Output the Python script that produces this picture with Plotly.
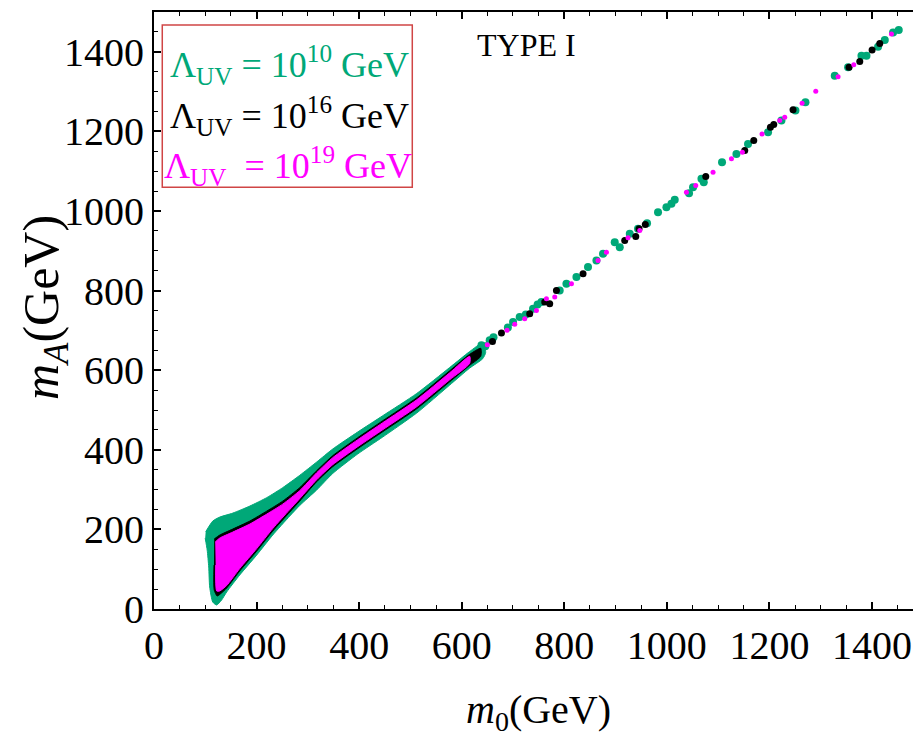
import plotly.graph_objects as go

# ---------------- data (GeV) ----------------
# dense scan regions (outer outline of the dense point clouds), m0 / mA
green_band_m0 = [100.8, 114.5, 128.1, 153.5, 186.6, 219.8, 251.0, 284.1, 317.3, 348.5, 397.2, 446.0, 512.3, 576.6, 615.6, 641.0,
                 646.8, 641.0, 615.6, 576.6, 512.3, 446.0, 397.2, 348.5, 317.3, 284.1, 264.6, 231.5, 200.3, 167.1, 141.7,
                 131.9, 122.2, 114.5, 108.6, 106.7, 103.7, 99.8]
green_band_mA = [194.0, 220.8, 230.9, 240.9, 258.5, 279.8, 304.9, 335.8, 369.4, 402.0, 444.7, 485.6, 541.5, 606.8, 646.9, 668.5,
                 644.9, 628.9, 605.3, 562.6, 492.4, 432.1, 389.5, 340.5, 299.1, 260.0, 233.4, 185.7, 135.5, 85.3, 42.7,
                 22.6, 10.0, 17.6, 55.2, 105.4, 148.1, 178.2]

black_band_m0 = [117.4, 128.1, 153.5, 186.6, 219.8, 251.0, 284.1, 317.3, 348.5, 397.2, 446.0, 512.3, 576.6, 615.6, 637.1,
                 637.1, 615.6, 576.6, 512.3, 446.0, 397.2, 348.5, 317.3, 284.1, 264.6, 231.5, 200.3, 167.1, 141.7, 128.1,
                 123.2, 117.4, 117.0]
black_band_mA = [175.7, 185.7, 200.8, 220.8, 245.9, 271.0, 304.9, 347.6, 385.2, 430.4, 473.0, 530.7, 598.5, 639.9, 655.0,
                 634.9, 612.3, 570.9, 503.1, 445.4, 402.8, 357.6, 320.0, 271.0, 243.4, 195.7, 145.5, 95.4, 52.7, 36.4,
                 32.6, 47.7, 110.4]

magenta_band_m0 = [119.3, 128.1, 153.5, 186.6, 219.8, 251.0, 284.1, 317.3, 348.5, 397.2, 446.0, 512.3, 576.6, 615.6,
                   615.6, 576.6, 512.3, 446.0, 397.2, 348.5, 317.3, 284.1, 264.6, 231.5, 200.3, 167.1, 141.7, 128.1,
                   122.2, 120.3]
magenta_band_mA = [168.1, 178.2, 193.2, 213.3, 238.4, 263.5, 297.4, 342.5, 380.2, 425.3, 468.0, 525.7, 593.5, 634.9,
                   617.3, 575.9, 508.2, 450.4, 407.8, 362.6, 325.0, 277.3, 249.7, 202.0, 151.8, 101.6, 59.0, 45.2,
                   45.2, 110.4]

# individual scan points (sparse part)
green_m0 = [638.5, 646.0, 654.6, 662.0, 690.0, 700.1, 713.1, 725.0, 739.1, 748.0, 755.5, 791.1, 804.2, 823.7, 846.3,
            862.7, 875.6, 898.4, 908.2, 927.7, 943.8, 961.4, 982.8, 999.2, 1009.0, 1015.4, 1043.3, 1051.1, 1067.5,
            1072.0, 1107.6, 1135.7, 1158.3, 1197.4, 1223.5, 1250.8, 1270.3, 1327.4, 1353.4, 1379.5, 1389.3, 1411.9,
            1425.0, 1441.1, 1452.2]
green_mA = [662.5, 660.0, 675.0, 683.0, 707.0, 721.0, 733.5, 740.0, 754.6, 765.0, 771.1, 800.5, 817.3, 833.9, 859.0,
            875.8, 892.6, 921.7, 909.2, 942.8, 955.3, 969.4, 997.0, 1009.5, 1018.0, 1028.0, 1044.7, 1059.7, 1080.8,
            1072.3, 1122.5, 1143.5, 1168.6, 1197.7, 1227.1, 1252.2, 1273.0, 1340.0, 1360.9, 1390.2, 1390.2, 1412.8,
            1429.6, 1448.7, 1454.7]

black_m0 = [660.0, 677.5, 732.6, 761.9, 771.6, 784.7, 836.6, 917.9, 939.4, 945.8, 958.0, 1075.9, 1151.9, 1169.5,
            1202.0, 1208.5, 1246.1, 1355.3, 1376.2, 1400.2, 1415.2]
black_mA = [672.0, 693.4, 742.0, 771.1, 767.1, 800.5, 842.4, 926.0, 936.0, 955.3, 966.0, 1086.6, 1151.8, 1176.9,
            1210.3, 1217.1, 1254.7, 1360.9, 1375.9, 1404.5, 1421.1]

magenta_m0 = [650.0, 688.4, 703.4, 722.9, 745.7, 765.2, 781.4, 814.0, 865.8, 882.2, 924.3, 947.2, 1038.2, 1056.4,
              1090.1, 1126.0, 1147.4, 1185.6, 1220.2, 1229.9, 1263.7, 1290.4, 1333.9, 1364.5, 1438.0]
magenta_mA = [664.0, 700.1, 715.2, 729.5, 750.3, 779.7, 783.7, 817.3, 875.8, 896.6, 932.7, 951.1, 1047.2, 1064.0,
              1097.4, 1131.0, 1147.6, 1193.7, 1227.1, 1235.4, 1270.5, 1300.6, 1337.5, 1367.6, 1444.6]

tick_vals = [0, 200, 400, 600, 800, 1000, 1200, 1400]
legend_labels = ["Λ<sub>UV</sub> = 10<sup>10</sup> GeV",
                 "Λ<sub>UV</sub> = 10<sup>16</sup> GeV",
                 "Λ<sub>UV</sub>  = 10<sup>19</sup> GeV"]

GREEN = "#00A878"
BLACK = "#000000"
MAGENTA = "#FF00FF"
FONT = "Liberation Serif"

fig = go.Figure()

def band(xs, ys, color, w):
    fig.add_trace(go.Scatter(x=xs, y=ys, mode="lines", fill="toself", fillcolor=color,
                             line=dict(color=color, width=w, shape="spline", smoothing=0.6),
                             hoverinfo="skip", showlegend=False))

def pts(xs, ys, color, size):
    fig.add_trace(go.Scatter(x=xs, y=ys, mode="markers",
                             marker=dict(color=color, size=size, line=dict(width=0)), showlegend=False))

band(green_band_m0, green_band_mA, GREEN, 1)
pts(green_m0, green_mA, GREEN, 8)
band(black_band_m0, black_band_mA, BLACK, 1)
pts(black_m0, black_mA, BLACK, 7)
band(magenta_band_m0, magenta_band_mA, MAGENTA, 1)
pts(magenta_m0, magenta_mA, MAGENTA, 5)

axis_common = dict(
    tickvals=tick_vals, ticks="inside", ticklen=7, tickwidth=1.5, tickcolor="black",
    showline=True, linecolor="black", linewidth=2, showgrid=False, zeroline=False,
    minor=dict(dtick=50, ticks="inside", ticklen=4, tickwidth=1.2, tickcolor="black", showgrid=False),
    tickfont=dict(family=FONT, size=40, color="black"),
)

fig.update_xaxes(range=[0, 1480], mirror="ticks", **axis_common)
fig.update_yaxes(range=[0, 1500], mirror=False, **axis_common)

colors = [GREEN, BLACK, MAGENTA]
ys = [0.912, 0.826, 0.742]
xs = [0.0184, 0.0184, 0.011]
annotations = []
for lab, c, yy, xx in zip(legend_labels, colors, ys, xs):
    annotations.append(dict(text=lab, xref="paper", yref="paper", x=xx, y=yy, xanchor="left", yanchor="middle",
                            showarrow=False, font=dict(family=FONT, size=36, color=c)))
annotations.append(dict(text="TYPE I", xref="paper", yref="paper", x=0.4914, y=0.9447, xanchor="center",
                        yanchor="middle", showarrow=False, font=dict(family=FONT, size=32, color="black")))
annotations.append(dict(text="<i>m</i><sub>0</sub>(GeV)", xref="paper", yref="paper", x=0.506, y=-0.172,
                        xanchor="center", yanchor="middle", showarrow=False,
                        font=dict(family=FONT, size=40, color="black")))
annotations.append(dict(text="<i>m</i><sub><i>A</i></sub>(GeV)", xref="paper", yref="paper", x=-0.1436, y=0.504,
                        xanchor="center", yanchor="middle", textangle=-90, showarrow=False,
                        font=dict(family=FONT, size=50, color="black")))

fig.update_layout(
    width=913, height=737,
    margin=dict(l=154, r=0, t=12, b=128),
    paper_bgcolor="white", plot_bgcolor="white",
    showlegend=False,
    annotations=annotations,
    shapes=[dict(type="rect", xref="paper", yref="paper", x0=0.0109, x1=0.3403, y0=0.7064, y1=0.9782,
                 line=dict(color="#D04545", width=1.5), fillcolor="rgba(0,0,0,0)")],
)

fig.write_html("out.html")
